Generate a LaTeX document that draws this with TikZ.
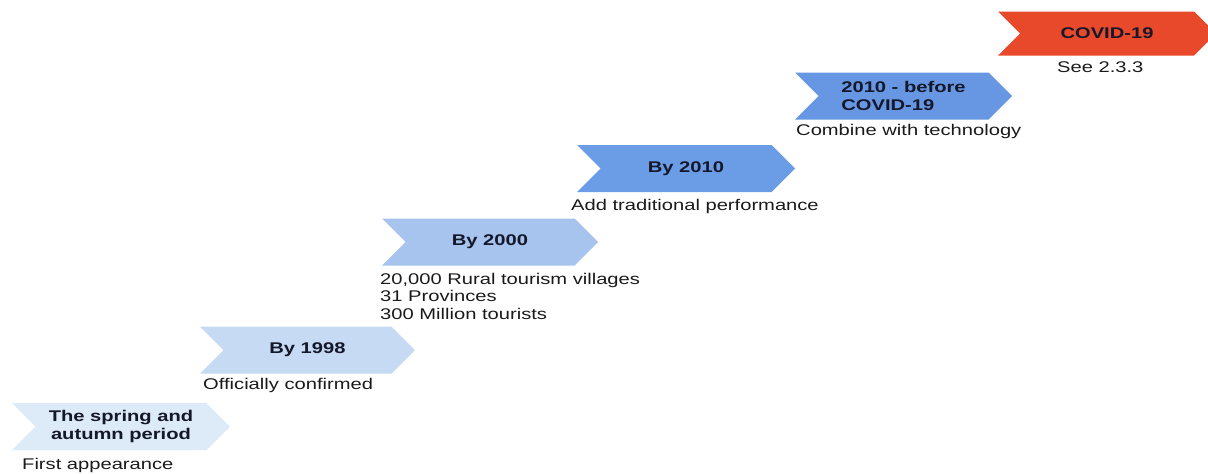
\documentclass[tikz,border=0pt]{standalone}
\usepackage{fontspec}
\setmainfont{Liberation Sans}[FakeStretch=1.3]
\usetikzlibrary{shapes.symbols}
\definecolor{cA}{HTML}{DCEBF7}
\definecolor{cB}{HTML}{C6DAF4}
\definecolor{cC}{HTML}{A6C4EE}
\definecolor{cD}{HTML}{6B9CE6}
\definecolor{cE}{HTML}{6797E3}
\definecolor{cF}{HTML}{E9492B}
\definecolor{ttl}{HTML}{15182A}
\definecolor{lbl}{HTML}{1A1A1A}
\begin{document}
\begin{tikzpicture}[x=1pt,y=-1pt,
  chev/.style={shape=signal, signal from=west, signal to=east, signal pointer angle=90,
    draw=none, inner sep=0pt, minimum height=47pt, text=ttl,
    font=\fontsize{15.5}{17.5}\selectfont\bfseries, align=center},
  lab/.style={anchor=west, inner sep=0pt, text=lbl, align=left,
    font=\fontsize{15.5}{17.5}\selectfont}]
\useasboundingbox (0,0) rectangle (1208,474);
\node[chev, fill=cA, minimum width=218pt] (c0) at (121,426.5) {The spring and\\autumn period};
\node[chev, fill=cB, minimum width=215pt] (c1) at (307.5,350) {By 1998};
\node[chev, fill=cC, minimum width=216pt] (c2) at (490,242) {By 2000};
\node[chev, fill=cD, minimum width=218pt] (c3) at (686,168.5) {By 2010};
\node[chev, fill=cE, minimum width=217pt, align=left] (c4) at (903.5,96) {2010 - before\\COVID-19};
\node[chev, fill=cF, minimum width=218pt, minimum height=44pt] (c5) at (1107,33.5) {COVID-19};
\node[lab] (l0) at (22,465) {First appearance};
\node[lab] (l1) at (203,385) {Officially confirmed};
\node[lab] (l2) at (380,296) {20,000 Rural tourism villages\\31 Provinces\\300 Million tourists};
\node[lab] (l3) at (571,206) {Add traditional performance};
\node[lab] (l4) at (796,131) {Combine with technology};
\node[lab] (l5) at (1057,67) {See 2.3.3};
\end{tikzpicture}
\end{document}
